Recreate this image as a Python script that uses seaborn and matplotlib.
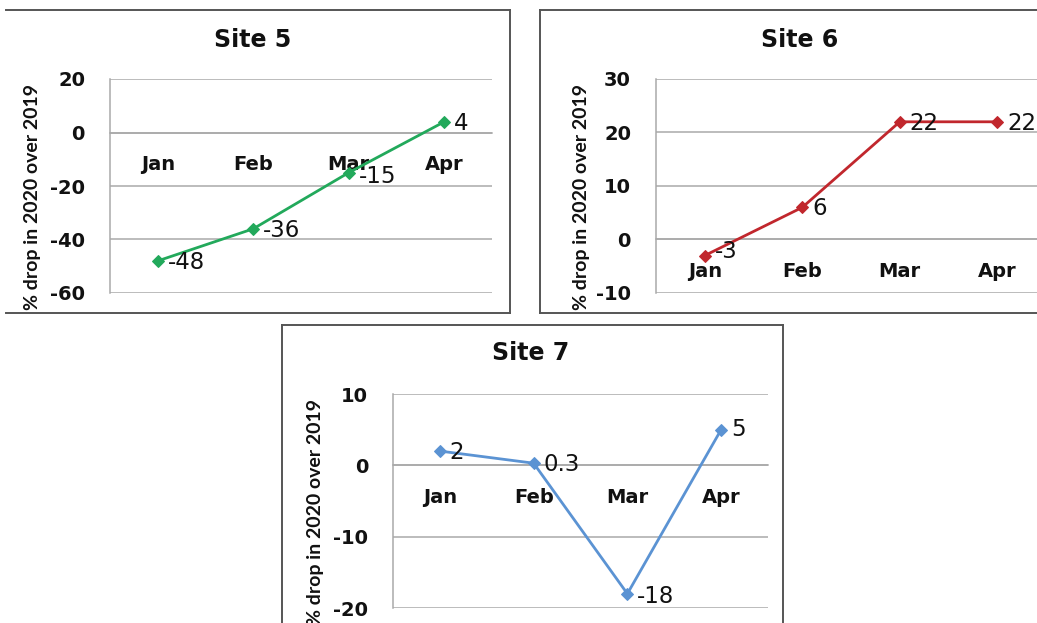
import matplotlib
matplotlib.use("Agg")
import matplotlib.pyplot as plt
import seaborn as sns
import pandas as pd
from matplotlib.lines import Line2D

# ---------------- data ----------------
months = ["Jan", "Feb", "Mar", "Apr"]
site5 = [-48, -36, -15, 4]
site6 = [-3, 6, 22, 22]
site7 = [2, 0.3, -18, 5]
titles = ["Site 5", "Site 6", "Site 7"]
ylabel = "% drop in 2020 over 2019"

sns.set_style("white")
plt.rcParams["font.family"] = ["DejaVu Sans"]
plt.rcParams["axes.unicode_minus"] = False

W, H = 1037, 623
fig = plt.figure(figsize=(W / 100, H / 100), dpi=100)
fig.patch.set_facecolor("white")

GRID = "#a9a9a9"
BOX = "#555555"


def px_axes(l, t, r, b):
    return fig.add_axes([l / W, 1 - b / H, (r - l) / W, (b - t) / H])


def panel_box(x0, y0, x1, y1, sides=("l", "t", "r", "b")):
    X0, X1 = x0 / W, x1 / W
    Y0, Y1 = 1 - y0 / H, 1 - y1 / H
    segs = {"l": ([X0, X0], [Y0, Y1]), "r": ([X1, X1], [Y0, Y1]),
            "t": ([X0, X1], [Y0, Y0]), "b": ([X0, X1], [Y1, Y1])}
    for s in sides:
        xs, ys = segs[s]
        fig.add_artist(Line2D(xs, ys, transform=fig.transFigure, color=BOX,
                              lw=1.4, solid_capstyle="projecting", zorder=0))


panels = [
    dict(vals=site5, title=titles[0], color="#22a95b", ylim=(-60, 20), step=20,
         axes=(110, 79, 492, 293), box=(6, 10, 510, 313), sides=("t", "r", "b"),
         tpos=(253, 40), labx=-0.18, dy=[0, 0, -2, 0]),
    dict(vals=site6, title=titles[1], color="#c1272d", ylim=(-10, 30), step=10,
         axes=(656, 79, 1046, 293), box=(540, 10, 1045, 313), sides=("l", "t", "b"),
         tpos=(800, 40), labx=-0.17, dy=[4, 0, 0, 0]),
    dict(vals=site7, title=titles[2], color="#5b93d3", ylim=(-20, 10), step=10,
         axes=(393, 394, 768, 608), box=(282, 325, 783, 660), sides=("l", "t", "r"),
         tpos=(531, 353), labx=-0.185, dy=[0, 0, -1, 1]),
]

for p in panels:
    panel_box(*p["box"], sides=p["sides"])
    fig.text(p["tpos"][0] / W, 1 - p["tpos"][1] / H, p["title"], ha="center",
             va="center", fontsize=17, fontweight="bold", color="#111111")

    ax = px_axes(*p["axes"])
    ax.set_facecolor("none")
    df = pd.DataFrame({"month": months, "value": p["vals"]})
    sns.lineplot(data=df, x="month", y="value", ax=ax, color=p["color"],
                 lw=2.0, marker="D", markersize=6, markeredgecolor=p["color"],
                 sort=False, zorder=3)

    ymin, ymax = p["ylim"]
    ax.set_ylim(ymin, ymax)
    ax.set_xlim(-0.5, 3.5)
    ax.set_yticks(list(range(ymin, ymax + 1, p["step"])))
    ax.grid(axis="y", color=GRID, lw=1.1)
    ax.grid(axis="x", visible=False)
    ax.set_axisbelow(True)

    for s in ["top", "right"]:
        ax.spines[s].set_visible(False)
    ax.spines["left"].set_color(GRID)
    ax.spines["left"].set_linewidth(1.1)
    ax.spines["bottom"].set_position(("data", 0))
    ax.spines["bottom"].set_color(GRID)
    ax.spines["bottom"].set_linewidth(1.1)

    ax.set_xticks(range(len(months)))
    ax.set_xticklabels(months, fontsize=14, fontweight="bold", color="#111111")
    ax.set_xticks([0.5, 1.5, 2.5, 3.5], minor=True)
    ax.tick_params(axis="x", which="major", length=0, pad=16)
    ax.tick_params(axis="x", which="minor", length=4, color=GRID, width=1.1,
                   direction="out")
    ax.tick_params(axis="y", length=6, color=GRID, width=1.1, pad=12,
                   labelsize=14, labelcolor="#111111")
    for lab in ax.get_yticklabels():
        lab.set_fontweight("bold")

    ax.set_xlabel("")
    ax.set_ylabel(ylabel, fontsize=14, fontweight="bold", color="#111111",
                  family=["Lato", "DejaVu Sans"])
    ax.yaxis.set_label_coords(p["labx"], 0.45)

    for i, v in enumerate(p["vals"]):
        ax.annotate(f"{v:g}", (i, v), xytext=(7, -1 + p["dy"][i]),
                    textcoords="offset points", ha="left", va="center",
                    fontsize=16.5, color="#111111", zorder=4)

fig.savefig("out.png", dpi=100, facecolor="white")
